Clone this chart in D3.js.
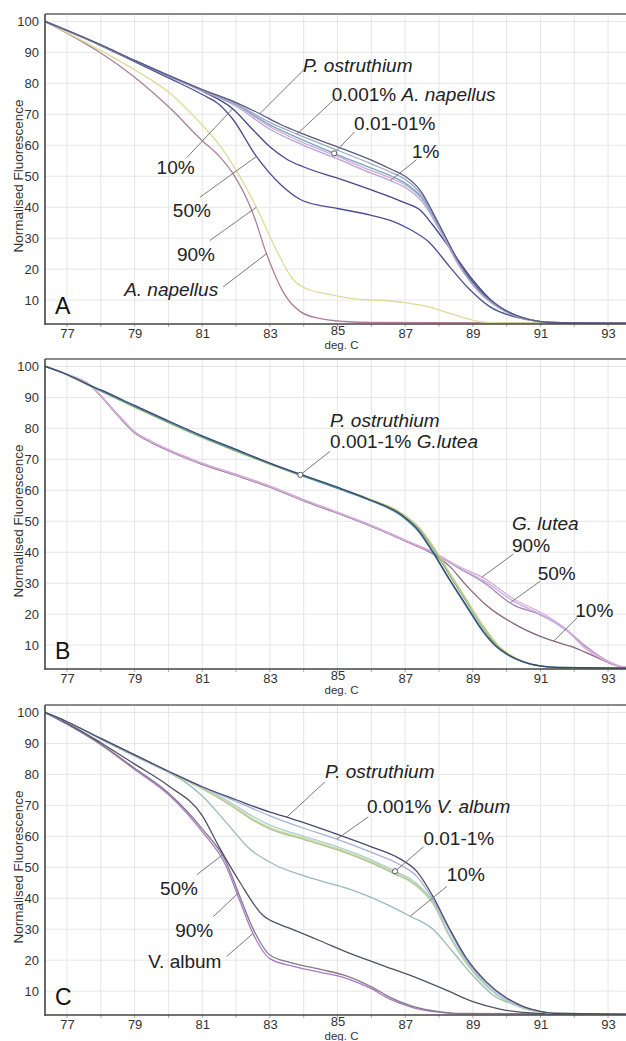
<!DOCTYPE html>
<html>
<head>
<meta charset="utf-8">
<script src="https://cdn.jsdelivr.net/npm/d3@7"></script>
<style>
  body { margin: 0; background: #fff; }
  svg { display: block; }
  text { font-family: "Liberation Sans", Arial, Helvetica, sans-serif; }
</style>
</head>
<body>
<svg id="chart" width="626" height="1041"></svg>
<script>
// ---- axes ----
const xDomain = [76.35, 93.53];
const yDomain = [2.3, 102.4];
const xTickValues = [77, 79, 81, 83, 85, 87, 89, 91, 93];
const xGridValues = [77, 78, 79, 80, 81, 82, 83, 84, 85, 86, 87, 88, 89, 90, 91, 92, 93];
const yTickValues = [10, 20, 30, 40, 50, 60, 70, 80, 90, 100];
const xAxisTitle = "deg. C";
const yAxisTitle = "Normalised Fluorescence";
const panelLetters = ["A", "B", "C"];

// ---- panel A: P. ostruthium spiked with A. napellus ----
const aOstruthium = [[76.35,100],[77,97.1],[78,92.4],[79,87.4],[80,82.6],[81,78],[82,73.8],[82.7,70.2],[83.3,66.8],[84,63.6],[85,59.5],[86,55.2],[86.6,52.2],[87,50],[87.45,45.4],[88,34.5],[88.6,22.2],[89.2,13.3],[89.8,7.8],[90.4,4.6],[91,3.1],[91.6,2.7],[93.53,2.6]];
const aNap0001 = [[76.35,100],[77,97.1],[78,92.4],[79,87.4],[80,82.6],[81,77.9],[82,73.4],[83,67.4],[83.8,63.6],[85,58.4],[86,54],[86.6,51.2],[87,49],[87.5,43.8],[88,34.2],[88.6,22],[89.2,13],[89.8,7.6],[90.4,4.5],[91,3.1],[91.6,2.7],[93.53,2.6]];
const aNap001 = [[76.35,100],[77,97.1],[78,92.4],[79,87.4],[80,82.5],[81,77.8],[82,73.2],[83,66.6],[84,61.6],[84.9,57.4],[86,52.6],[86.6,50],[87,47.8],[87.5,43],[88,33.8],[88.6,21.6],[89.2,12.8],[89.8,7.5],[90.4,4.4],[91,3.1],[91.6,2.7],[93.53,2.6]];
const aNap01 = [[76.35,100],[77,97.1],[78,92.4],[79,87.4],[80,82.5],[81,77.7],[82,73],[83,66],[84,60.8],[85,56.4],[86,51.8],[86.6,49.3],[87,47.2],[87.5,42.6],[88,33.6],[88.6,21.4],[89.2,12.6],[89.8,7.4],[90.4,4.4],[91,3.1],[91.6,2.7],[93.53,2.6]];
const aNap1 = [[76.35,100],[77,97.1],[78,92.4],[79,87.4],[80,82.4],[81,77.6],[82,72.6],[83,65.2],[84,60],[85,55.6],[86,51],[86.56,48.6],[87,46.4],[87.5,41.8],[88,33],[88.6,21],[89.2,12.4],[89.8,7.3],[90.4,4.3],[91,3.1],[91.6,2.7],[93.53,2.6]];
const aNap10 = [[76.35,100],[77,97.1],[78,92.4],[79,87.3],[80,82.4],[81,77.5],[81.9,71.8],[82.5,65],[83,59.5],[83.5,55.5],[84,53],[85,49.4],[86,45.6],[86.6,43.2],[87,41.4],[87.45,39],[87.8,34.5],[88.4,25.5],[89,16.5],[89.6,9.4],[90.4,4.6],[91,3.1],[91.6,2.7],[93.53,2.6]];
const aNap50 = [[76.35,100],[77,97],[78,92.2],[79,87],[80,81.8],[81,76.4],[81.5,73.2],[81.9,68.5],[82.6,56.4],[83.3,47.5],[83.9,42.5],[84.5,40.5],[85,39.6],[86,37.4],[86.6,35.6],[87.15,32.8],[87.7,28.8],[88.3,21],[88.9,13.5],[89.5,7.9],[90.4,4.2],[91,3.1],[91.6,2.7],[93.53,2.6]];
const aNap90 = [[76.35,100],[77,96.4],[78,90.6],[79,84.4],[80,77.2],[81,66.5],[81.5,60.2],[82,52],[82.6,40],[83.2,26],[83.7,16.5],[84.2,13.2],[84.6,12.2],[85.4,10.6],[86.85,9.4],[87.7,7.8],[88.3,5.8],[89.2,3.1],[89.8,2.7],[93.53,2.6]];
const aNapellus = [[76.35,100],[77,96.2],[78,89.8],[79,82],[80,72.5],[81,61.5],[81.5,56.5],[81.9,51],[82.5,38],[82.9,25],[83.4,12.5],[83.9,6.3],[84.5,4],[85.2,3.1],[86,2.8],[93.53,2.6]];

// ---- panel B: P. ostruthium spiked with G. lutea ----
const bOstruthium = [[76.35,100],[77,97.4],[77.7,93.8],[78,92.4],[79,87.4],[80,82.4],[81,77.6],[82,73.2],[83,68.8],[83.9,65.2],[85,61],[85.9,57.2],[86.9,52],[87.4,47],[87.8,40.5],[88.3,31.5],[88.8,23],[89.3,14.6],[89.7,9.6],[90,7.2],[90.5,4.6],[91,3.3],[91.5,2.8],[93.53,2.6]];
const bLut0001 = [[76.35,100],[77,97.4],[77.7,93.7],[78,92.2],[79,87.1],[80,82.1],[81,77.3],[82,72.9],[83,68.6],[83.9,65],[85,60.6],[85.9,57],[86.9,51.6],[87.4,46.6],[87.8,40.2],[88.3,31.2],[88.8,22.6],[89.3,14.3],[89.7,9.4],[90,7],[90.5,4.5],[91,3.2],[91.5,2.8],[93.53,2.6]];
const bLut001 = [[76.35,100],[77,97.3],[77.7,93.6],[78,92],[79,86.8],[80,81.8],[81,77],[82,72.6],[83,68.4],[83.9,64.8],[85,60.8],[85.9,57.4],[86.9,52.6],[87.4,48.2],[87.8,42.4],[88.3,33.6],[88.8,25],[89.3,16.4],[89.8,9.4],[90.2,6.2],[90.6,4.3],[91.1,3.1],[91.6,2.7],[93.53,2.6]];
const bLut1 = [[76.35,100],[77,97.3],[77.7,93.6],[78,92.1],[79,86.9],[80,81.9],[81,77.1],[82,72.7],[83,68.5],[83.9,64.9],[85,60.7],[85.9,57.1],[86.9,52.2],[87.4,47.6],[87.8,41.6],[88.3,32.8],[88.8,24.2],[89.3,15.6],[89.8,8.9],[90.2,6],[90.6,4.2],[91.1,3.1],[91.6,2.7],[93.53,2.6]];
const bLutea90 = [[76.35,100],[77,97.4],[77.7,93.8],[78,90.6],[78.5,84.6],[79,79],[79.5,75.8],[80,73.2],[81,68.8],[82,65.2],[83,61.4],[84,57],[85,53],[85.9,49.2],[87.15,43.3],[87.8,40.2],[88.6,35.4],[89.3,31.8],[90.2,25],[91.2,19.4],[91.8,14.8],[92.3,9.2],[92.8,5.6],[93.3,3.2],[93.53,2.8]];
const bLutea90b = [[76.35,100],[77,97.4],[77.7,93.8],[78,90.5],[78.5,84.4],[79,78.8],[79.5,75.6],[80,73],[81,68.6],[82,65],[83,61.2],[84,56.8],[85,52.8],[85.9,49],[87.15,43.1],[87.8,40],[88.6,35],[89.3,31],[90.2,24.2],[91.2,18.8],[91.8,14.4],[92.3,9.6],[92.8,6],[93.3,3.4],[93.53,2.8]];
const bLutea50 = [[76.35,100],[77,97.4],[77.7,93.8],[78,90.4],[78.5,84.3],[79,78.7],[79.5,75.5],[80,72.9],[81,68.5],[82,64.9],[83,61.1],[84,56.7],[85,52.7],[85.9,48.9],[87.15,43],[87.8,39.9],[88.6,34.8],[89.3,30.4],[90.2,23],[91,19.8],[91.7,15.5],[92.3,10],[93,4.8],[93.4,3],[93.53,2.8]];
const bLutea10 = [[76.35,100],[77,97.4],[77.7,93.8],[78,90.4],[78.5,84.2],[79,78.6],[79.5,75.4],[80,72.8],[81,68.4],[82,64.8],[83,61],[84,56.6],[85,52.6],[85.9,48.8],[87.15,42.9],[87.8,39.6],[88.3,35.6],[88.8,29.4],[89.4,22.9],[90.3,16.4],[91.3,11.6],[91.9,9.6],[92.6,6.4],[93.3,3.2],[93.53,2.8]];

// ---- panel C: P. ostruthium spiked with V. album ----
const cOstruthium = [[76.35,100],[77,97],[78,91.6],[79,86.3],[80,81],[81,76],[82,71.8],[83,67.8],[83.5,66.2],[84,64.4],[85,60.6],[86,56.6],[86.85,52.7],[87.35,48.6],[87.8,41],[88.3,30.4],[88.8,20.8],[89.4,13],[90,7.8],[90.5,5],[91,3.5],[91.5,2.8],[93.53,2.6]];
const cAlb0001 = [[76.35,100],[77,97],[78,91.6],[79,86.3],[80,81],[81,75.9],[82,71.3],[83,66.6],[84,62.6],[85,59],[86,54.8],[86.85,50.8],[87.35,47],[87.8,40],[88.3,29.8],[88.8,20.2],[89.4,12.6],[90,7.5],[90.5,4.8],[91,3.4],[91.5,2.8],[93.53,2.6]];
const cAlb001 = [[76.35,100],[77,97],[78,91.6],[79,86.2],[80,80.9],[81,75.6],[81.5,73],[82,69.8],[82.5,66.4],[83,63.6],[84,60],[85,56.6],[86,52.4],[86.7,48.7],[87.15,46.3],[87.5,43.2],[87.83,39],[88.3,28.4],[88.8,19.6],[89.4,12],[90,7],[90.5,4.6],[91,3.3],[91.5,2.8],[93.53,2.6]];
const cAlb01 = [[76.35,100],[77,97],[78,91.6],[79,86.2],[80,80.8],[81,75.4],[81.5,72.6],[82,69.2],[82.5,65.6],[83,62.8],[84,59.4],[85,56],[86,51.8],[86.7,48.2],[87.15,45.8],[87.5,42.8],[87.83,38.6],[88.3,28],[88.8,19.3],[89.4,11.8],[90,6.9],[90.5,4.5],[91,3.3],[91.5,2.8],[93.53,2.6]];
const cAlb1 = [[76.35,100],[77,97],[78,91.6],[79,86.2],[80,80.8],[81,75.3],[81.5,72.3],[82,68.8],[82.5,65.2],[83,62.4],[84,59],[85,55.6],[86,51.4],[86.7,47.8],[87.15,45.4],[87.5,42.4],[87.83,38.2],[88.3,27.8],[88.8,19.1],[89.4,11.6],[90,6.8],[90.5,4.4],[91,3.2],[91.5,2.8],[93.53,2.6]];
const cAlb10 = [[76.35,100],[77,96.9],[78,91.3],[79,85.9],[80,80.6],[80.5,77.5],[81,73],[81.7,64.6],[82.4,56],[83.2,50.5],[83.9,47.6],[84.5,45.6],[85.5,42.4],[86.5,37.8],[87.15,34.2],[87.8,30.2],[88.4,22.8],[89,15.1],[89.6,8.7],[90.4,5.2],[91.2,3],[91.8,2.7],[93.53,2.6]];
const cAlb50 = [[76.35,100],[77,96.6],[78,90.2],[79,83.3],[80,76.3],[81,66.7],[81.5,56.5],[82.1,45.4],[82.8,34.4],[83.3,31.5],[83.7,29.8],[84.5,26.2],[85.27,22.6],[86.26,18.6],[87.25,14.7],[88.2,10.4],[89,6.6],[89.8,4.2],[90.8,2.9],[91.5,2.7],[93.53,2.6]];
const cAlb90 = [[76.35,100],[77,96.3],[78,89.8],[79,82],[80,74],[81,62.4],[81.7,51.8],[82.1,40.9],[82.5,30.2],[83,21.7],[83.7,19],[84.5,17],[85.3,14.8],[86,11.4],[86.55,8],[87.2,5.2],[88,3.4],[88.6,2.8],[93.53,2.6]];
const cAlbum = [[76.35,100],[77,96.2],[78,89.6],[79,81.6],[80,73.5],[81,61.5],[81.7,50.5],[82.1,39.5],[82.5,28.6],[83,20.5],[83.7,18],[84.5,16.1],[85.3,14],[86,10.8],[86.55,7.4],[87.2,4.8],[88,3.2],[88.6,2.7],[93.53,2.6]];

// series per panel: [name, values, colour]
const panelSeries = [
  [
    ["aNapellus", aNapellus, "#ab7f9c"],
    ["aNap90", aNap90, "#dcdc98"],
    ["aNap50", aNap50, "#4d4d92"],
    ["aNap10", aNap10, "#45458a"],
    ["aNap1", aNap1, "#b4a6dc"],
    ["aNap01", aNap01, "#dba6d4"],
    ["aNap001", aNap001, "#72a8c2"],
    ["aNap0001", aNap0001, "#a2aac4"],
    ["aOstruthium", aOstruthium, "#5a5a7e"]
  ],
  [
    ["bLutea10", bLutea10, "#8a6478"],
    ["bLutea50", bLutea50, "#a888b0"],
    ["bLutea90b", bLutea90b, "#c4b0e0"],
    ["bLutea90", bLutea90, "#dcaad8"],
    ["bLut001", bLut001, "#cccc7c"],
    ["bLut1", bLut1, "#86b486"],
    ["bLut0001", bLut0001, "#4f96a2"],
    ["bOstruthium", bOstruthium, "#3a4676"]
  ],
  [
    ["cAlbum", cAlbum, "#a878c8"],
    ["cAlb90", cAlb90, "#857888"],
    ["cAlb50", cAlb50, "#505068"],
    ["cAlb10", cAlb10, "#98bab6"],
    ["cAlb1", cAlb1, "#a8bc9c"],
    ["cAlb01", cAlb01, "#cad890"],
    ["cAlb001", cAlb001, "#a8d0d0"],
    ["cAlb0001", cAlb0001, "#a8b0da"],
    ["cOstruthium", cOstruthium, "#4a4a6e"]
  ]
];

// labels: text parts [text, italic], baseline-left anchor (deg, value),
// leader start (deg, value), leader target series + temperature, optional ring
const panelLabels = [
  [
    { parts: [["P. ostruthium", true]], at: [83.98, 83.6], from: [84.02, 84.6], to: ["aOstruthium", 82.7] },
    { parts: [["0.001% ", false], ["A. napellus", true]], at: [84.83, 74.4], from: [84.88, 74.6], to: ["aNap0001", 83.8] },
    { parts: [["0.01-01%", false]], at: [85.49, 65.0], from: [85.5, 64.3], to: ["aNap001", 84.9], ring: true },
    { parts: [["1%", false]], at: [87.2, 56.0], from: [87.34, 55.4], to: ["aNap1", 86.56] },
    { parts: [["10%", false]], at: [79.65, 50.8], from: [80.54, 56.0], to: ["aNap10", 81.9] },
    { parts: [["50%", false]], at: [80.13, 36.7], from: [80.93, 43.2], to: ["aNap50", 82.6] },
    { parts: [["90%", false]], at: [80.25, 22.6], from: [81.23, 29.3], to: ["aNap90", 82.6] },
    { parts: [["A. napellus", true]], at: [78.69, 11.2], from: [81.62, 14.3], to: ["aNapellus", 82.9] }
  ],
  [
    { parts: [["P. ostruthium", true]], at: [84.78, 80.5] },
    { parts: [["0.001-1% ", false], ["G.lutea", true]], at: [84.78, 73.6], from: [84.78, 72.6], to: ["bLut0001", 83.9], ring: true },
    { parts: [["G. lutea", true]], at: [90.16, 47.2] },
    { parts: [["90%", false]], at: [90.16, 40.2], from: [90.2, 39.4], to: ["bLutea90", 89.27] },
    { parts: [["50%", false]], at: [90.92, 31.0], from: [90.99, 30.6], to: ["bLutea50", 90.1] },
    { parts: [["10%", false]], at: [92.03, 19.2], from: [92.08, 18.8], to: ["bLutea10", 91.39] }
  ],
  [
    { parts: [["P. ostruthium", true]], at: [84.63, 78.7], from: [84.63, 77.6], to: ["cOstruthium", 83.5] },
    { parts: [["0.001% ", false], ["V. album", true]], at: [85.87, 67.4], from: [85.91, 66.3], to: ["cAlb0001", 84.98] },
    { parts: [["0.01-1%", false]], at: [87.54, 57.2], from: [87.54, 56.6], to: ["cAlb001", 86.7], ring: true },
    { parts: [["10%", false]], at: [88.23, 45.7], from: [88.23, 43.8], to: ["cAlb10", 87.15] },
    { parts: [["50%", false]], at: [79.75, 41.1], from: [80.84, 47.6], to: ["cAlb50", 81.62] },
    { parts: [["90%", false]], at: [80.2, 27.6], from: [81.33, 34.1], to: ["cAlb90", 82.07] },
    { parts: [["V. album", false]], at: [79.4, 17.4], from: [81.72, 21.2], to: ["cAlbum", 82.5] }
  ]
];

// ---- layout ----
const plotLeft = 45, plotRight = 626;
const panelTops = [14, 359, 705];
const panelHeight = 310;

const svg = d3.select("#chart");
const x = d3.scaleLinear().domain(xDomain).range([plotLeft, plotRight]);

// point on a drawn path at a given screen x (paths are monotone in x)
function pointAtX(node, px) {
  let lo = 0, hi = node.getTotalLength();
  for (let i = 0; i < 40; i++) {
    const mid = (lo + hi) / 2;
    if (node.getPointAtLength(mid).x < px) lo = mid; else hi = mid;
  }
  return node.getPointAtLength((lo + hi) / 2);
}

panelTops.forEach((top, pi) => {
  const bottom = top + panelHeight;
  const y = d3.scaleLinear().domain(yDomain).range([bottom, top]);
  const g = svg.append("g");

  // clip
  const clipId = "clip" + pi;
  g.append("clipPath").attr("id", clipId)
    .append("rect").attr("x", plotLeft).attr("y", top).attr("width", plotRight - plotLeft).attr("height", panelHeight);

  // grid
  g.append("g").selectAll("line").data(xGridValues).join("line")
    .attr("x1", d => x(d)).attr("x2", d => x(d)).attr("y1", top).attr("y2", bottom)
    .attr("stroke", "#e6e6e6").attr("stroke-width", 1);
  g.append("g").selectAll("line").data(yTickValues).join("line")
    .attr("x1", plotLeft).attr("x2", plotRight).attr("y1", d => y(d)).attr("y2", d => y(d))
    .attr("stroke", "#e6e6e6").attr("stroke-width", 1);

  // curves
  const line = d3.line().x(d => x(d[0])).y(d => y(d[1])).curve(d3.curveMonotoneX);
  const paths = {};
  const curveG = g.append("g").attr("clip-path", `url(#${clipId})`);
  panelSeries[pi].forEach(([name, values, colour]) => {
    paths[name] = curveG.append("path").datum(values)
      .attr("d", line).attr("fill", "none").attr("stroke", colour)
      .attr("stroke-width", 1.3).attr("stroke-linejoin", "round").node();
  });

  // frame: top border, left and bottom axis lines
  g.append("line").attr("x1", plotLeft).attr("x2", plotRight).attr("y1", top).attr("y2", top)
    .attr("stroke", "#8a8a8a").attr("stroke-width", 2);

  const xAxis = d3.axisBottom(x).tickValues(xTickValues).tickSize(0).tickPadding(5).tickFormat(d3.format("d"));
  const xa = g.append("g").attr("transform", `translate(0,${bottom})`).call(xAxis);
  xa.select(".domain").remove();
  xa.selectAll("text").attr("font-size", 13).attr("fill", "#333")
    .attr("font-family", '"Liberation Sans", Arial, sans-serif');
  // the label sitting above the axis title is lifted slightly
  xa.selectAll(".tick").filter(d => d === 85).select("text").attr("y", 2);
  g.append("g").selectAll("line").data(xGridValues).join("line")
    .attr("x1", d => x(d)).attr("x2", d => x(d)).attr("y1", bottom).attr("y2", bottom + 3)
    .attr("stroke", "#aaa");

  const yAxis = d3.axisLeft(y).tickValues(yTickValues).tickSize(0).tickPadding(6).tickFormat(d3.format("d"));
  const ya = g.append("g").attr("transform", `translate(${plotLeft},0)`).call(yAxis);
  ya.select(".domain").remove();
  ya.selectAll("text").attr("font-size", 13).attr("fill", "#333")
    .attr("font-family", '"Liberation Sans", Arial, sans-serif');

  g.append("line").attr("x1", plotLeft).attr("x2", plotLeft).attr("y1", top).attr("y2", bottom + 1)
    .attr("stroke", "#444").attr("stroke-width", 1.6);
  g.append("line").attr("x1", plotLeft).attr("x2", plotRight).attr("y1", bottom).attr("y2", bottom)
    .attr("stroke", "#444").attr("stroke-width", 1.6);

  // axis titles
  g.append("text").attr("x", x(85) + 4).attr("y", bottom + 24.5).attr("text-anchor", "middle")
    .attr("font-size", 11.5).attr("fill", "#333").text(xAxisTitle);
  g.append("text").attr("transform", `translate(23,${(top + bottom) / 2 + 7}) rotate(-90)`)
    .attr("text-anchor", "middle").attr("font-size", 13.5).attr("fill", "#333").text(yAxisTitle);

  // panel letter
  g.append("text").attr("x", 55).attr("y", bottom - 10)
    .attr("font-size", 23).attr("fill", "#111").text(panelLetters[pi]);

  // annotations
  const ann = g.append("g");
  panelLabels[pi].forEach(lab => {
    if (lab.to) {
      const p = pointAtX(paths[lab.to[0]], x(lab.to[1]));
      ann.append("line").attr("x1", x(lab.from[0])).attr("y1", y(lab.from[1]))
        .attr("x2", p.x).attr("y2", p.y).attr("stroke", "#7a7a7a").attr("stroke-width", 1);
      if (lab.ring) {
        ann.append("circle").attr("cx", p.x).attr("cy", p.y).attr("r", 2.6)
          .attr("fill", "#fff").attr("stroke", "#555").attr("stroke-width", 1);
      }
    }
    const t = ann.append("text").attr("x", x(lab.at[0])).attr("y", y(lab.at[1]))
      .attr("font-size", 19).attr("fill", "#222");
    lab.parts.forEach(([s, it]) => {
      t.append("tspan").attr("font-style", it ? "italic" : "normal").text(s);
    });
  });
});
</script>
</body>
</html>
